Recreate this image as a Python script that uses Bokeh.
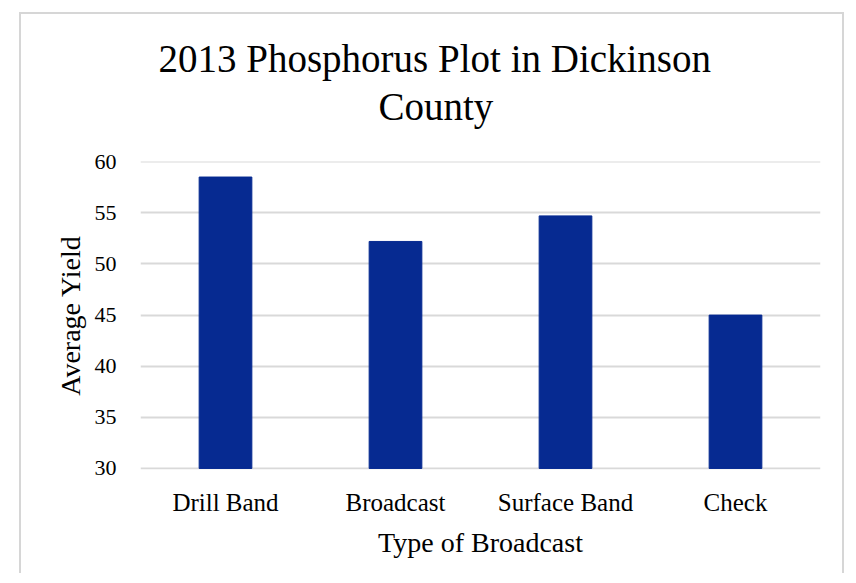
from bokeh.plotting import figure
from bokeh.models import Range1d, FactorRange, Title
from bokeh.embed import file_html
from bokeh.resources import INLINE

categories = ["Drill Band", "Broadcast", "Surface Band", "Check"]
yields = [58.5, 52.2, 54.7, 45.0]
y_ticks = [30, 35, 40, 45, 50, 55, 60]
title_lines = ["2013 Phosphorus Plot in Dickinson", "County"]

FONT = "Liberation Serif"

p = figure(
    x_range=FactorRange(*categories, range_padding=0),
    y_range=Range1d(29.9, 60.02),
    width=825, height=561,
    output_backend="svg", toolbar_location=None,
    min_border_left=119, min_border_right=26,
    min_border_top=147, min_border_bottom=106,
    styles={"border-top": "2px solid #d6d6d6",
            "border-left": "2px solid #d6d6d6",
            "border-right": "2px solid #d6d6d6",
            "margin-left": "19px", "margin-top": "12px"},
)

p.vbar(x=categories, top=yields, bottom=30, width=0.31,
       fill_color="#062a91", line_color="#062a91")

def style_title(t, off, size="39px"):
    t.text_font = FONT
    t.text_font_size = size
    t.text_font_style = "normal"
    t.align = "left"
    t.offset = off
    t.text_color = "#000000"

p.title.text = title_lines[0]
style_title(p.title, 18)
p.title.standoff = 6
# blank spacer between the title block and the plot frame (closest to frame)
spacer = Title(text=" ")
style_title(spacer, 0, "12px")
spacer.standoff = 18
p.add_layout(spacer, "above")
t2 = Title(text=title_lines[1])
style_title(t2, 238)
t2.standoff = 0
p.add_layout(t2, "above")

p.outline_line_color = None
p.background_fill_color = "white"
p.border_fill_color = "white"

p.xgrid.grid_line_color = None
p.ygrid.grid_line_color = "#d9d9d9"
p.ygrid.grid_line_width = 2
p.yaxis.ticker = y_ticks

for ax in (p.xaxis, p.yaxis):
    ax.axis_line_color = None
    ax.major_tick_line_color = None
    ax.minor_tick_line_color = None
    ax.major_label_text_font = FONT
    ax.major_label_text_color = "#000000"
    ax.axis_label_text_font = FONT
    ax.axis_label_text_font_style = "normal"
    ax.axis_label_text_color = "#000000"

p.xaxis.major_label_text_font_size = "25px"
p.yaxis.major_label_text_font_size = "22px"
p.xaxis.axis_label = "Type of Broadcast"
p.yaxis.axis_label = "Average Yield"
p.xaxis.axis_label_text_font_size = "28px"
p.yaxis.axis_label_text_font_size = "28px"
p.xaxis.major_label_standoff = 13
p.yaxis.major_label_standoff = 18
p.xaxis.axis_label_standoff = 8
p.yaxis.axis_label_standoff = 6

open("out.html", "w").write(file_html(p, INLINE))
